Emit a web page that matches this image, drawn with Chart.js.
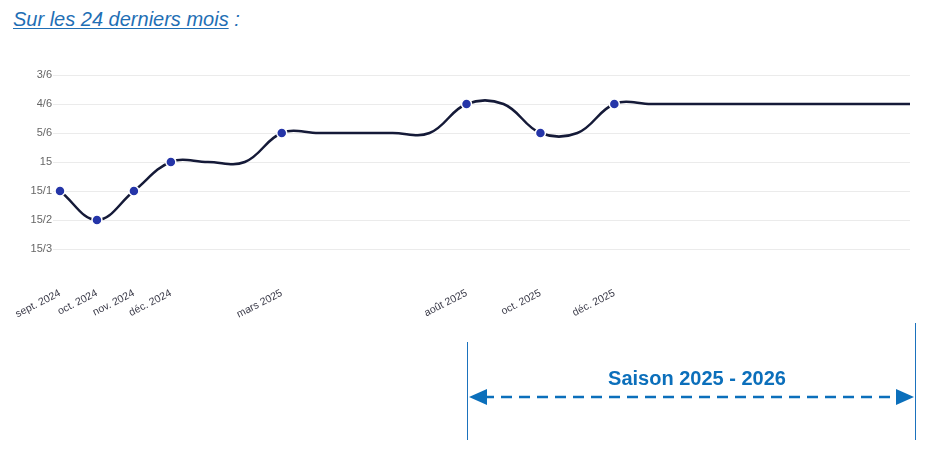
<!DOCTYPE html>
<html lang="fr">
<head>
<meta charset="utf-8">
<script src="https://cdn.jsdelivr.net/npm/chart.js@4.4.0/dist/chart.umd.min.js"></script>
<style>
  html, body { margin: 0; padding: 0; background: #fff; }
  body { width: 936px; height: 457px; position: relative; overflow: hidden; }
  #titre {
    position: absolute; left: 13px; top: 8px;
    font-family: "Liberation Sans", Arial, sans-serif;
    font-size: 20px; font-style: italic; color: #1f6fb5;
  }
  #titre u { text-decoration-thickness: 1px; text-underline-offset: 2px; }
  #chart { position: absolute; left: 0; top: 0; }
</style>
</head>
<body>
<div id="titre"><u>Sur les 24 derniers mois</u> :</div>
<canvas id="chart" width="936" height="457"></canvas>
<script>
  // classements, du meilleur (haut) au moins bon (bas)
  const classements = ['3/6', '4/6', '5/6', '15', '15/1', '15/2', '15/3'];

  // mois de sept. 2024 à août 2026
  const mois = [
    'sept. 2024', 'oct. 2024', 'nov. 2024', 'déc. 2024',
    'janv. 2025', 'févr. 2025', 'mars 2025', 'avr. 2025', 'mai 2025', 'juin 2025', 'juil. 2025', 'août 2025',
    'sept. 2025', 'oct. 2025', 'nov. 2025', 'déc. 2025',
    'janv. 2026', 'févr. 2026', 'mars 2026', 'avr. 2026', 'mai 2026', 'juin 2026', 'juil. 2026', 'août 2026'
  ];

  // classement de chaque mois
  const valeurs = [
    '15/1', '15/2', '15/1', '15',
    '15', '15', '5/6', '5/6', '5/6', '5/6', '5/6', '4/6',
    '4/6', '5/6', '5/6', '4/6',
    '4/6', '4/6', '4/6', '4/6', '4/6', '4/6', '4/6', '4/6'
  ];

  const debutSaison = 'août 2025';
  const texteSaison = 'Saison 2025 - 2026';

  // un point (et une étiquette) seulement quand le classement change
  const changements = valeurs.map((v, i) => i === 0 || v !== valeurs[i - 1]);

  const bleu = '#0b6fbb';

  // dessin de la flèche "saison" sous le graphique
  const saisonPlugin = {
    id: 'saison',
    afterDraw(chart) {
      const ctx = chart.ctx;
      const x = chart.scales.x;
      const x1 = Math.round(x.getPixelForValue(mois.indexOf(debutSaison)));
      const x2 = Math.round(chart.chartArea.right + 5);
      const yFleche = 397;
      ctx.save();
      ctx.strokeStyle = '#1b72bd';
      ctx.lineWidth = 1;
      ctx.beginPath();
      ctx.moveTo(x1 + 0.5, 342); ctx.lineTo(x1 + 0.5, 440);
      ctx.moveTo(x2 + 0.5, 323); ctx.lineTo(x2 + 0.5, 440);
      ctx.stroke();

      ctx.strokeStyle = bleu;
      ctx.fillStyle = bleu;
      ctx.lineWidth = 2.5;
      ctx.setLineDash([11, 7]);
      ctx.beginPath();
      ctx.moveTo(x1 + 16, yFleche); ctx.lineTo(x2 - 16, yFleche);
      ctx.stroke();
      ctx.setLineDash([]);
      ctx.beginPath();
      ctx.moveTo(x1 + 2, yFleche); ctx.lineTo(x1 + 20, yFleche - 8); ctx.lineTo(x1 + 20, yFleche + 8);
      ctx.closePath(); ctx.fill();
      ctx.beginPath();
      ctx.moveTo(x2 - 1, yFleche); ctx.lineTo(x2 - 19, yFleche - 8); ctx.lineTo(x2 - 19, yFleche + 8);
      ctx.closePath(); ctx.fill();

      ctx.font = 'bold 20px "Liberation Sans", Arial, sans-serif';
      ctx.textAlign = 'center';
      ctx.textBaseline = 'alphabetic';
      ctx.fillText(texteSaison, 697, 385);
      ctx.restore();
    }
  };

  Chart.defaults.font.family = '"Liberation Sans", Arial, sans-serif';

  new Chart(document.getElementById('chart'), {
    type: 'line',
    data: {
      labels: mois,
      datasets: [{
        data: valeurs.map(v => classements.indexOf(v)),
        borderColor: '#151a38',
        borderWidth: 2.5,
        tension: 0.4,
        fill: false,
        pointRadius: changements.map(c => c ? 5 : 0),
        pointBackgroundColor: '#2535a8',
        pointBorderColor: '#ffffff',
        pointBorderWidth: 1.5
      }]
    },
    options: {
      responsive: false,
      animation: false,
      events: [],
      layout: { padding: { top: 75, right: 26, bottom: 128, left: 0 } },
      plugins: { legend: { display: false }, tooltip: { enabled: false } },
      scales: {
        x: {
          grid: { display: false, drawTicks: false },
          border: { display: false },
          afterFit: s => { s.height = 80; s.paddingLeft = 0; s.paddingRight = 0; },
          ticks: {
            autoSkip: false,
            maxRotation: 27,
            minRotation: 27,
            padding: 38,
            color: '#3a3a48',
            font: { size: 10.5 },
            callback: (v, i) => changements[i] ? mois[i] : ''
          }
        },
        y: {
          reverse: true,
          min: 0,
          max: classements.length - 1,
          afterFit: s => { s.width = 60; },
          grid: { color: '#ebebeb', tickLength: 7 },
          border: { display: false },
          ticks: {
            stepSize: 1,
            padding: 1,
            color: '#666',
            font: { size: 11 },
            callback: v => classements[v]
          }
        }
      }
    },
    plugins: [saisonPlugin]
  });
</script>
</body>
</html>
